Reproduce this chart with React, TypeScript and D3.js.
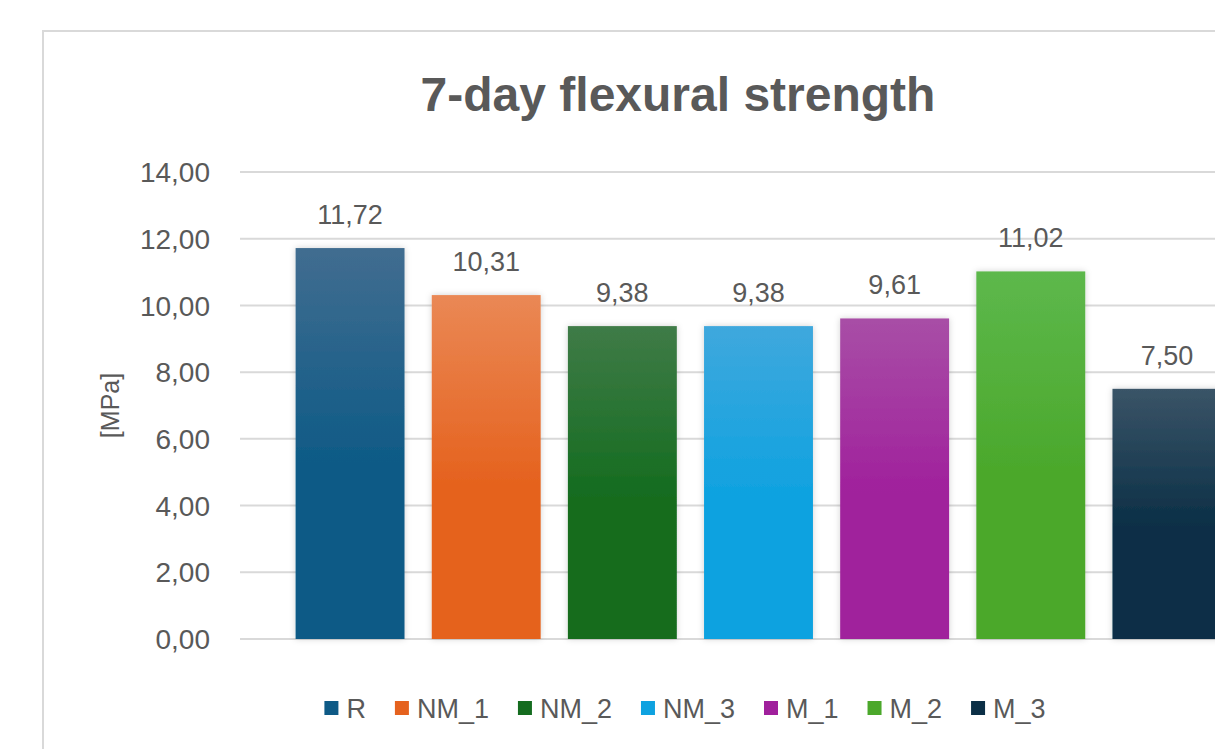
import React, { useRef, useEffect } from 'react';
import * as d3 from 'd3';

// chart data
const categories = ['R', 'NM_1', 'NM_2', 'NM_3', 'M_1', 'M_2', 'M_3'];
const values = [11.72, 10.31, 9.38, 9.38, 9.61, 11.02, 7.5];
const yTicks = [0, 2, 4, 6, 8, 10, 12, 14];
const topColors = ['#416d90', '#ea8855', '#3f7b47', '#3fa8dd', '#a84ea6', '#5db84c', '#3a5467'];
const baseColors = ['#0e5a86', '#e5621e', '#146c1f', '#0ea2e0', '#a0209c', '#4ba82b', '#0b2f46'];

const fmt = d3.formatLocale({ decimal: ',', thousands: '.', grouping: [3], currency: ['', ''] }).format('.2f');

const App = () => {
  const chart = useRef<SVGSVGElement | null>(null);

  useEffect(() => {
    const svg = d3.select(chart.current);
    svg.selectAll('*').remove();

    const width = 1215;
    const height = 749;
    const font = '"Liberation Sans", Arial, sans-serif';
    const textColor = '#595959';
    const gridColor = '#d9d9d9';

    // background + chart border (cut off at right and bottom)
    svg.append('rect').attr('width', width).attr('height', height).attr('fill', '#fff');
    svg
      .append('rect')
      .attr('x', 43)
      .attr('y', 31)
      .attr('width', 1300)
      .attr('height', 800)
      .attr('fill', '#fff')
      .attr('stroke', gridColor)
      .attr('stroke-width', 2);

    const defs = svg.append('defs');
    categories.forEach((c, i) => {
      const g = defs
        .append('linearGradient')
        .attr('id', `grad${i}`)
        .attr('x1', 0)
        .attr('y1', 0)
        .attr('x2', 0)
        .attr('y2', 1);
      g.append('stop').attr('offset', '0%').attr('stop-color', topColors[i]);
      g.append('stop').attr('offset', '55%').attr('stop-color', baseColors[i]);
      g.append('stop').attr('offset', '100%').attr('stop-color', baseColors[i]);
    });
    const shadow = defs.append('filter').attr('id', 'shadow').attr('x', '-20%').attr('y', '-20%').attr('width', '140%').attr('height', '140%');
    shadow
      .append('feDropShadow')
      .attr('dx', 0)
      .attr('dy', 0)
      .attr('stdDeviation', 3)
      .attr('flood-color', '#000')
      .attr('flood-opacity', 0.18);

    // title
    svg
      .append('text')
      .attr('x', 678)
      .attr('y', 111)
      .attr('text-anchor', 'middle')
      .attr('font-family', font)
      .attr('font-weight', 'bold')
      .attr('font-size', 48)
      .attr('fill', textColor)
      .text('7-day flexural strength');

    // scales
    const y = d3.scaleLinear().domain([0, 14]).range([639, 172]);
    const x = d3
      .scaleBand()
      .domain(categories)
      .range([282, 1235])
      .paddingInner(0.2)
      .paddingOuter(0.1);

    // gridlines
    svg
      .append('g')
      .selectAll('line')
      .data(yTicks)
      .enter()
      .append('line')
      .attr('x1', 240)
      .attr('x2', width)
      .attr('y1', (d) => y(d))
      .attr('y2', (d) => y(d))
      .attr('stroke', gridColor)
      .attr('stroke-width', 2);

    // y tick labels
    svg
      .append('g')
      .selectAll('text')
      .data(yTicks)
      .enter()
      .append('text')
      .attr('x', 210)
      .attr('y', (d) => y(d))
      .attr('dy', '0.36em')
      .attr('text-anchor', 'end')
      .attr('font-family', font)
      .attr('font-size', 28)
      .attr('fill', textColor)
      .text((d) => fmt(d));

    // y axis title
    svg
      .append('text')
      .attr('transform', `translate(110, ${(y(0) + y(14)) / 2}) rotate(-90)`)
      .attr('dy', '0.36em')
      .attr('text-anchor', 'middle')
      .attr('font-family', font)
      .attr('font-size', 25)
      .attr('fill', textColor)
      .text('[MPa]');

    // bars
    svg
      .append('g')
      .selectAll('rect')
      .data(values)
      .enter()
      .append('rect')
      .attr('x', (d, i) => x(categories[i]) as number)
      .attr('y', (d) => y(d))
      .attr('width', x.bandwidth())
      .attr('height', (d) => y(0) - y(d))
      .attr('fill', (d, i) => `url(#grad${i})`)
      .attr('filter', 'url(#shadow)');

    // data labels
    svg
      .append('g')
      .selectAll('text')
      .data(values)
      .enter()
      .append('text')
      .attr('x', (d, i) => (x(categories[i]) as number) + x.bandwidth() / 2)
      .attr('y', (d) => y(d) - 24)
      .attr('text-anchor', 'middle')
      .attr('font-family', font)
      .attr('font-size', 27)
      .attr('fill', textColor)
      .text((d) => fmt(d));

    // legend
    const legend = svg.append('g');
    const sq = 14;
    const items = categories.map((c, i) => {
      const g = legend.append('g');
      g.append('rect').attr('width', sq).attr('height', sq).attr('y', -sq / 2).attr('fill', baseColors[i]);
      const t = g
        .append('text')
        .attr('x', sq + 8)
        .attr('dy', '0.36em')
        .attr('font-family', font)
        .attr('font-size', 27)
        .attr('fill', textColor)
        .text(c);
      const w = sq + 8 + (t.node() as SVGTextElement).getComputedTextLength();
      return { g, w };
    });
    const gap = 29;
    const total = d3.sum(items, (d) => d.w) + gap * (items.length - 1);
    let cx = 685 - total / 2;
    items.forEach((it) => {
      it.g.attr('transform', `translate(${cx}, 708)`);
      cx += it.w + gap;
    });
  }, []);

  return (
    <svg
      ref={chart}
      width={1215}
      height={749}
      style={{ position: 'absolute', left: 0, top: 0, display: 'block' }}
    />
  );
};

export default App;
